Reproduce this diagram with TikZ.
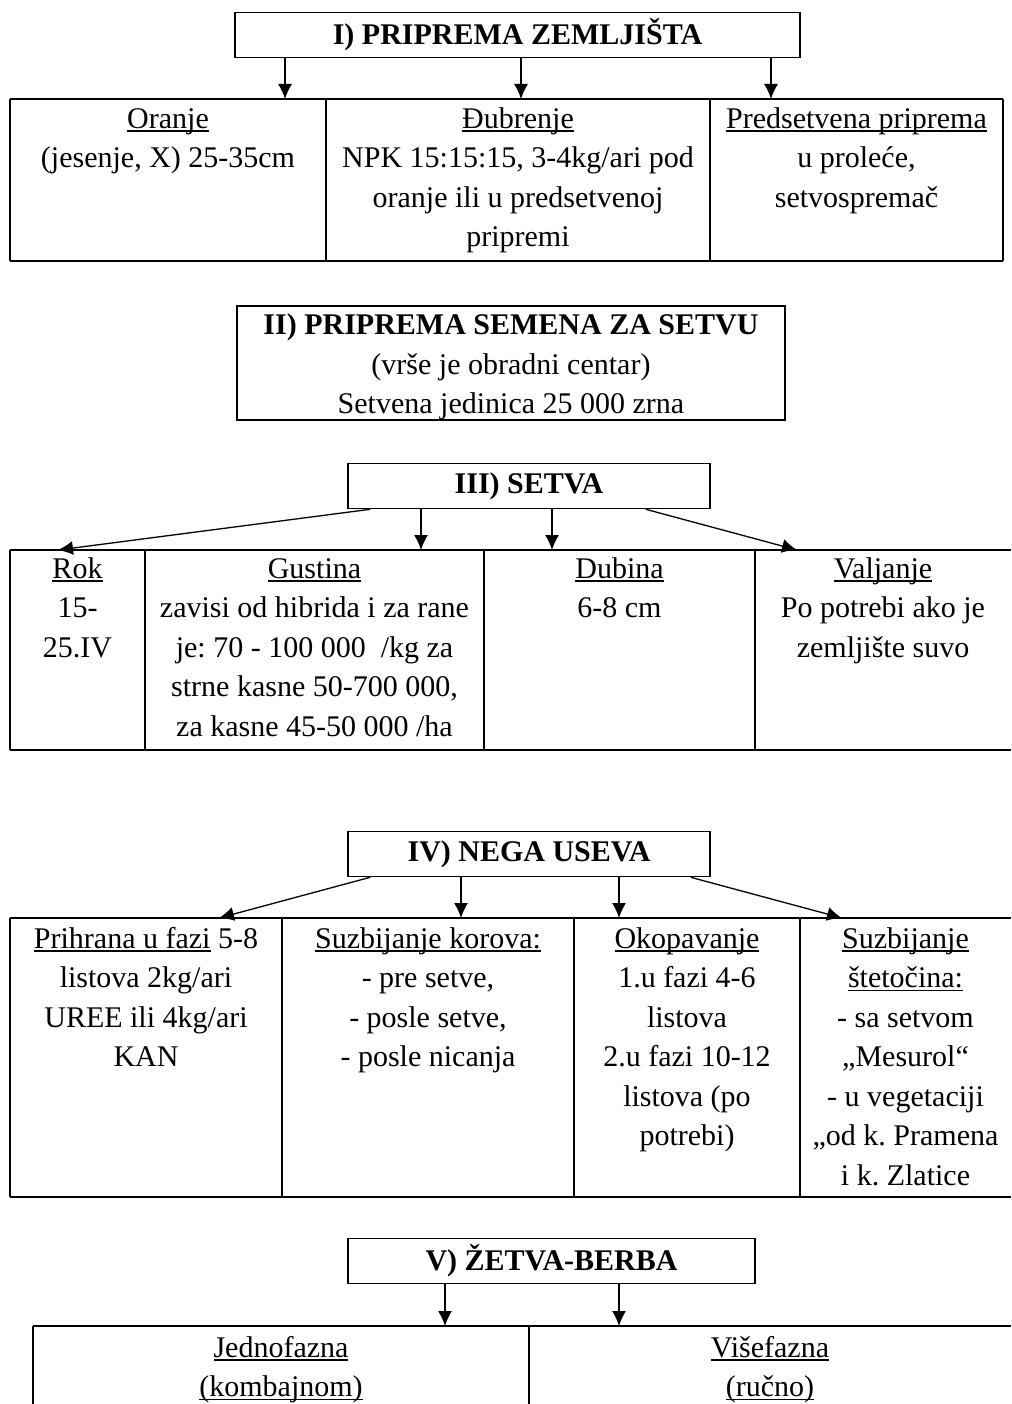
\documentclass[tikz,border=0pt]{standalone}
\usepackage{fontspec}
\setmainfont{Liberation Serif}
\usepackage{tikz}
\usetikzlibrary{arrows.meta,positioning}
\frenchspacing
\newcommand{\cellfont}{\fontsize{30}{39.5}\selectfont}
\newcommand{\podv}[1]{\rule{0pt}{26pt}\setbox0\hbox{#1}\rlap{\rule[-3.5pt]{\wd0}{1.5pt}}\box0\relax}
\tikzset{
  naslov/.style={draw, line width=1.6pt, font=\cellfont\bfseries, inner sep=0pt, minimum height=45pt},
  polje/.style={anchor=north, yshift=26pt, align=center, inner sep=0pt, font=\cellfont},
  strel/.style={-{Latex[length=15pt,width=14pt]}, line width=1.3pt},
  deblja/.style={line width=2.8pt},
  tanka/.style={line width=1.1pt}
}

\begin{document}
\begin{tikzpicture}[x=1pt,y=-1pt]
\useasboundingbox (0,0) rectangle (1011,1404);

\node[naslov, minimum width=565pt] (zem) at (517.5,35) {I) PRIPREMA ZEMLJIŠTA};
\coordinate (z1) at (285,99);
\coordinate (z2) at (521,99);
\coordinate (z3) at (771,99);
\draw[deblja] (10,99) -- (1003,99);
\draw[deblja] (10,261) -- (1003,261);
\draw[line width=1.8pt] (10,99) -- (10,261);
\draw[line width=1.8pt] (1003,99) -- (1003,261);
\draw[tanka] (326,99) -- (326,261);
\draw[tanka] (710,99) -- (710,261);
\node[polje] (oranje) at (168,128) {\podv{Oranje}\\(jesenje, X) 25-35cm};
\node[polje] (djubrenje) at (518,128) {\podv{Đubrenje}\\NPK 15:15:15, 3-4kg/ari pod\\oranje ili u predsetvenoj\\pripremi};
\node[polje] (predsetv) at (856.5,128) {\podv{Predsetvena priprema}\\u proleće,\\setvospremač};
\draw[strel] (zem.south -| z1) -- (z1);
\draw[strel] (zem.south -| z2) -- (z2);
\draw[strel] (zem.south -| z3) -- (z3);

\node[naslov, font=\cellfont, align=center, minimum width=548pt, minimum height=112pt] (seme) at (511,363)
  {\rule{0pt}{29pt}\textbf{II) PRIPREMA SEMENA ZA SETVU}\\(vrše je obradni centar)\\Setvena jedinica 25 000 zrna};

\node[naslov, minimum width=362pt] (setva) at (529,486) {III) SETVA};
\coordinate (s1) at (58,550);
\coordinate (s2) at (421,550);
\coordinate (s3) at (552,550);
\coordinate (s4) at (797,550);
\draw[deblja] (10,550) -- (1011,550);
\draw[deblja] (10,750) -- (1011,750);
\draw[line width=1.8pt] (10,550) -- (10,750);
\draw[tanka] (145,550) -- (145,750);
\draw[tanka] (484,550) -- (484,750);
\draw[tanka] (755,550) -- (755,750);
\node[polje] (rok) at (77.5,578) {\podv{Rok}\\15-\\25.IV};
\node[polje] (gustina) at (314.5,578) {\podv{Gustina}\\zavisi od hibrida i za rane\\je: 70 - 100 000\ \ /kg za\\strne kasne 50-700 000,\\za kasne 45-50 000 /ha};
\node[polje] (dubina) at (619.5,578) {\podv{Dubina}\\6-8 cm};
\node[polje] (valjanje) at (883,578) {\podv{Valjanje}\\Po potrebi ako je\\zemljište suvo};
\draw[strel] ([xshift=23pt]setva.south west) -- (s1);
\draw[strel] (setva.south -| s2) -- (s2);
\draw[strel] (setva.south -| s3) -- (s3);
\draw[strel] ([xshift=-65pt]setva.south east) -- (s4);

\node[naslov, minimum width=362pt] (nega) at (529,854) {IV) NEGA USEVA};
\coordinate (n1) at (219,918);
\coordinate (n2) at (461,918);
\coordinate (n3) at (619,918);
\coordinate (n4) at (842,918);
\draw[deblja] (10,918) -- (1011,918);
\draw[deblja] (10,1197) -- (1011,1197);
\draw[line width=1.8pt] (10,918) -- (10,1197);
\draw[tanka] (282,918) -- (282,1197);
\draw[tanka] (574,918) -- (574,1197);
\draw[tanka] (800,918) -- (800,1197);
\node[polje] (prihrana) at (146,948) {\podv{Prihrana u fazi} 5-8\\listova 2kg/ari\\UREE ili 4kg/ari\\KAN};
\node[polje] (korovi) at (428,948) {\podv{Suzbijanje korova:}\\- pre setve,\\- posle setve,\\- posle nicanja};
\node[polje] (okopav) at (687,948) {\podv{Okopavanje}\\1.u fazi 4-6\\listova\\2.u fazi 10-12\\listova (po\\potrebi)};
\node[polje] (stetocine) at (905.5,948) {\podv{Suzbijanje}\\\podv{štetočina:}\\- sa setvom\\„Mesurol“\\- u vegetaciji\\„od k. Pramena\\i k. Zlatice};
\draw[strel] ([xshift=23pt]nega.south west) -- (n1);
\draw[strel] (nega.south -| n2) -- (n2);
\draw[strel] (nega.south -| n3) -- (n3);
\draw[strel] ([xshift=-20pt]nega.south east) -- (n4);

\node[naslov, minimum width=407pt] (zetva) at (551.5,1261) {V) ŽETVA-BERBA};
\coordinate (b1) at (445,1326);
\coordinate (b2) at (619,1326);
\draw[deblja] (33,1326) -- (1011,1326);
\draw[deblja] (33,1326) -- (33,1410);
\draw[tanka] (529,1326) -- (529,1410);
\node[polje] (jednofazna) at (281,1357) {\podv{Jednofazna}\\\podv{(kombajnom)}};
\node[polje] (visefazna) at (770,1357) {\podv{Višefazna}\\\podv{(ručno)}};
\draw[strel] (zetva.south -| b1) -- (b1);
\draw[strel] (zetva.south -| b2) -- (b2);
\end{tikzpicture}
\end{document}
